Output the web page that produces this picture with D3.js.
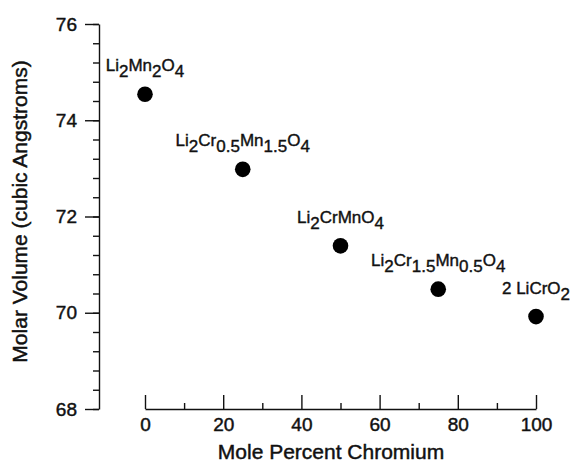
<!DOCTYPE html>
<html>
<head>
<meta charset="utf-8">
<script src="https://cdn.jsdelivr.net/npm/d3@7"></script>
<style>
  body { margin: 0; background: #fff; }
  svg { display: block; font-family: "Liberation Sans", Arial, Helvetica, sans-serif; }
  .axis path, .axis line { stroke: #111; stroke-width: 1.4; }
  .axis text { fill: #111; font-size: 19px; stroke: #111; stroke-width: 0.45; }
  .title { fill: #111; font-size: 21px; stroke: #111; stroke-width: 0.45; }
  .lbl { fill: #111; font-size: 17px; stroke: #111; stroke-width: 0.4; }
</style>
</head>
<body>
<svg id="chart" width="571" height="462"></svg>
<script>
// composition (mole % Cr) and molar volume of each spinel
const molePct = [0, 25, 50, 75, 100];
const molarVolume = [74.54, 72.98, 71.39, 70.49, 69.92];

// formula pieces: [text, isSubscript]
const formulas = [
  [["Li", 0], ["2", 1], ["Mn", 0], ["2", 1], ["O", 0], ["4", 1]],
  [["Li", 0], ["2", 1], ["Cr", 0], ["0.5", 1], ["Mn", 0], ["1.5", 1], ["O", 0], ["4", 1]],
  [["Li", 0], ["2", 1], ["CrMnO", 0], ["4", 1]],
  [["Li", 0], ["2", 1], ["Cr", 0], ["1.5", 1], ["Mn", 0], ["0.5", 1], ["O", 0], ["4", 1]],
  [["2 LiCrO", 0], ["2", 1]]
];

const xMajor = [0, 20, 40, 60, 80, 100];
const xMinor = [10, 30, 50, 70, 90];
const yMajor = [68, 70, 72, 74, 76];
const yMinor = d3.range(68, 76.01, 0.4);

const width = 571, height = 462;
const margin = {top: 24, right: 35, bottom: 53, left: 145};

const svg = d3.select("#chart");

const x = d3.scaleLinear().domain([0, 100]).range([margin.left, width - margin.right]);
const y = d3.scaleLinear().domain([68, 76]).range([height - margin.bottom, margin.top]);

const axisX = 99;

// y axis: minor ticks first, then major ticks with labels
svg.append("g")
  .attr("class", "axis")
  .attr("transform", `translate(${axisX},0)`)
  .call(d3.axisLeft(y).tickValues(yMinor).tickSize(6).tickSizeOuter(0).tickFormat(""));

svg.append("g")
  .attr("class", "axis")
  .attr("transform", `translate(${axisX},0)`)
  .call(d3.axisLeft(y).tickValues(yMajor).tickSize(14).tickSizeOuter(0).tickPadding(8))
  .call(g => g.select(".domain").remove());

// x axis sits at the bottom, ticks pointing up
svg.append("g")
  .attr("class", "axis")
  .attr("transform", `translate(0,${y(68)})`)
  .call(d3.axisBottom(x).tickValues(xMinor).tickSize(-6).tickSizeOuter(0).tickFormat(""));

svg.append("g")
  .attr("class", "axis")
  .attr("transform", `translate(0,${y(68)})`)
  .call(d3.axisBottom(x).tickValues(xMajor).tickSize(-14).tickSizeOuter(0).tickPadding(9))
  .call(g => g.select(".domain").remove());

svg.selectAll(".axis text").attr("font-family", null);

// axis titles
svg.append("text")
  .attr("class", "title")
  .attr("x", 331)
  .attr("y", 459)
  .attr("text-anchor", "middle")
  .text("Mole Percent Chromium");

svg.append("text")
  .attr("class", "title")
  .attr("transform", `translate(27,${(y(68) + y(76)) / 2 - 5}) rotate(-90)`)
  .attr("text-anchor", "middle")
  .text("Molar Volume (cubic Angstroms)");

// points
svg.selectAll("circle.pt")
  .data(molePct)
  .enter()
  .append("circle")
    .attr("class", "pt")
    .attr("cx", (d, i) => x(d))
    .attr("cy", (d, i) => y(molarVolume[i]))
    .attr("r", 7.8)
    .attr("fill", "#000");

// formula labels centred above each point
const labels = svg.selectAll("text.lbl")
  .data(formulas)
  .enter()
  .append("text")
    .attr("class", "lbl")
    .attr("x", (d, i) => x(molePct[i]))
    .attr("y", (d, i) => y(molarVolume[i]) - 23)
    .attr("text-anchor", "middle");

labels.each(function(parts) {
  const t = d3.select(this);
  let low = false;
  parts.forEach(([s, sub]) => {
    const dy = sub && !low ? 6 : (!sub && low ? -6 : 0);
    low = !!sub;
    t.append("tspan").attr("dy", dy).text(s);
  });
});
</script>
</body>
</html>
